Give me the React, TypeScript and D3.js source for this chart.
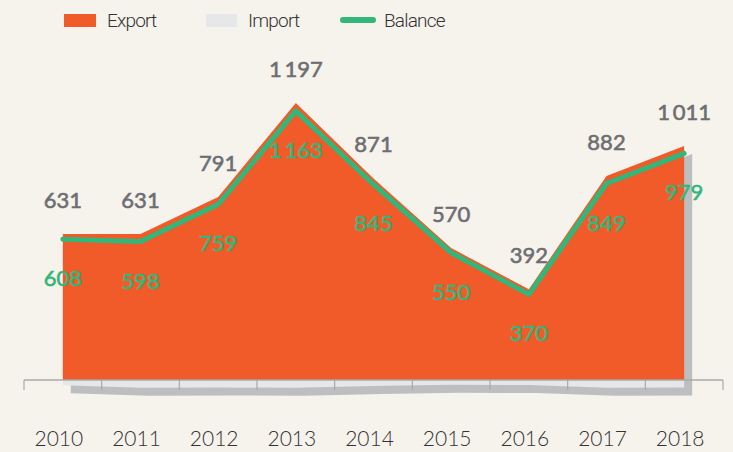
import React from "react";
import * as d3 from "d3";

const years = ["2010", "2011", "2012", "2013", "2014", "2015", "2016", "2017", "2018"];
const exportValues = [631, 631, 791, 1197, 871, 570, 392, 882, 1011];
const importValues = [23, 33, 32, 34, 26, 20, 22, 33, 32];
const balanceValues = [608, 598, 759, 1163, 845, 550, 370, 849, 979];

const W = 733;
const H = 452;
const BG = "#f6f2ec";
const ORANGE = "#f15a29";
const IMPORT_C = "#e6e7e8";
const SHADOW_C = "#bcbec0";
const GREEN = "#33b67a";
const AXIS_C = "#a7a9ac";
const VALUE_GREY = "#6d6e71";

const fmt = (v: number) =>
  v >= 1000 ? `${Math.floor(v / 1000)}\u2009${String(v % 1000).padStart(3, "0")}` : String(v);

export default function App() {
  const x = d3.scaleBand<string>().domain(years).range([24, 723]).padding(0);
  const cx = (y: string) => (x(y) as number) + x.bandwidth() / 2;
  const y = d3.scaleLinear().domain([0, 1200]).range([380, 102.3]);
  const yNeg = (v: number) => 380 + (y(0) - y(v));

  const rows = years.map((yr, i) => ({
    yr,
    ex: exportValues[i],
    im: importValues[i],
    bal: balanceValues[i],
  }));

  const exportArea = d3
    .area<(typeof rows)[number]>()
    .x((d) => cx(d.yr))
    .y0(380)
    .y1((d) => y(d.ex))(rows) as string;

  const importArea = d3
    .area<(typeof rows)[number]>()
    .x((d) => cx(d.yr))
    .y0(380)
    .y1((d) => yNeg(d.im))(rows) as string;

  const shadowArea = d3
    .area<(typeof rows)[number]>()
    .x((d) => cx(d.yr))
    .y0((d) => yNeg(d.im))
    .y1((d) => y(d.ex))(rows) as string;

  const balanceLine = d3
    .line<(typeof rows)[number]>()
    .x((d) => cx(d.yr))
    .y((d) => y(d.bal))(rows) as string;

  const bounds = [...years.map((yr) => x(yr) as number), 723];
  const font = "Lato, 'Open Sans', sans-serif";

  return (
    <svg
      width={W}
      height={H}
      style={{ position: "absolute", left: 0, top: 0, display: "block" }}
    >
      <rect x={0} y={0} width={W} height={H} fill={BG} />

      {/* Legend */}
      <g fontFamily="Roboto, sans-serif" fontWeight={300} fontSize={19} fill="#333">
        <rect x={64} y={14} width={32} height={13} fill={ORANGE} />
        <text x={107} y={27} letterSpacing={-0.8}>Export</text>
        <rect x={206} y={14} width={31} height={13} fill={IMPORT_C} />
        <text x={248} y={27} letterSpacing={-0.8}>Import</text>
        <line x1={343} x2={373} y1={20} y2={20} stroke={GREEN} strokeWidth={6} strokeLinecap="round" />
        <text x={384} y={27} letterSpacing={-0.8}>Balance</text>
      </g>

      {/* Shadow */}
      <path d={shadowArea} fill={SHADOW_C} transform="translate(8,8)" />
      {/* Import */}
      <path d={importArea} fill={IMPORT_C} />
      {/* Export */}
      <path d={exportArea} fill={ORANGE} />

      {/* Axis */}
      <line x1={24} x2={723} y1={380} y2={380} stroke={AXIS_C} strokeWidth={1.5} />
      {bounds.map((b, i) => (
        <line key={i} x1={b} x2={b} y1={380} y2={390} stroke={AXIS_C} strokeWidth={1.2} />
      ))}

      {/* Balance line */}
      <path d={balanceLine} fill="none" stroke={GREEN} strokeWidth={5} strokeLinecap="round" strokeLinejoin="round" />

      {/* Export labels */}
      <g fontFamily={font} fontWeight={400} fontSize={22} fill={VALUE_GREY} stroke={VALUE_GREY} strokeWidth={0.6} textAnchor="middle">
        {rows.map((d) => (
          <text key={d.yr} x={cx(d.yr)} y={y(d.ex) - 26}>
            {fmt(d.ex)}
          </text>
        ))}
      </g>

      {/* Balance labels */}
      <g fontFamily={font} fontWeight={400} fontSize={22} fill={GREEN} stroke={GREEN} strokeWidth={0.6} textAnchor="middle">
        {rows.map((d) => (
          <text key={d.yr} x={cx(d.yr)} y={y(d.bal) + 47}>
            {fmt(d.bal)}
          </text>
        ))}
      </g>

      {/* Year labels */}
      <g fontFamily={font} fontWeight={300} fontSize={21} fill="#333" textAnchor="middle">
        {years.map((yr) => (
          <text key={yr} x={cx(yr) - 4} y={446}>
            {yr}
          </text>
        ))}
      </g>
    </svg>
  );
}
